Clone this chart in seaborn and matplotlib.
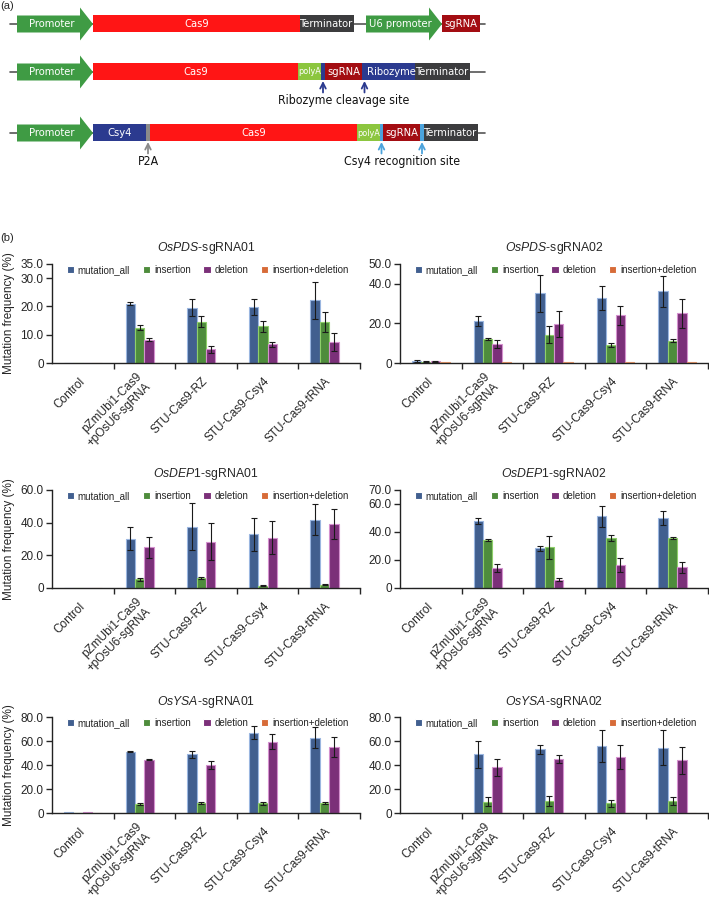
import numpy as np
import pandas as pd
import matplotlib.pyplot as plt
from matplotlib import font_manager
from matplotlib.patches import Polygon, Rectangle
from matplotlib.ticker import FuncFormatter
import seaborn as sns

sns.set_style('ticks')
plt.rcParams['font.family'] = ['Liberation Sans', 'DejaVu Sans']
plt.rcParams['mathtext.fontset'] = 'custom'
plt.rcParams['mathtext.it'] = 'Liberation Sans:italic'
plt.rcParams['mathtext.rm'] = 'Liberation Sans'

# ---------------- data (panel b) ----------------
groups = ['Control', 'pZmUbi1-Cas9\n+pOsU6-sgRNA', 'STU-Cas9-RZ', 'STU-Cas9-Csy4', 'STU-Cas9-tRNA']
types = ['mutation_all', 'insertion', 'deletion', 'insertion+deletion']
type_colors = ['#345c9c', '#46992f', '#882385', '#f2621d']
type_edges = ['#9ab6e0', '#8fcf6a', '#d591cf', '#f6a070']

# rows = types, columns = groups
pds1_mean = [[0, 21.0, 19.5, 19.8, 22.2],
             [0, 12.5, 14.6, 13.0, 14.6],
             [0, 8.3, 4.8, 6.6, 7.5],
             [0, 0, 0, 0, 0]]
pds1_sd = [[0, 0.5, 3.0, 2.8, 6.5],
           [0, 1.0, 2.0, 2.0, 3.5],
           [0, 0.5, 1.1, 1.0, 3.2],
           [0, 0, 0, 0, 0]]

pds2_mean = [[1.0, 21.2, 35.2, 33.0, 36.2],
             [0.6, 12.0, 14.3, 9.2, 11.3],
             [0.8, 9.5, 19.9, 24.0, 25.1],
             [0.3, 0.3, 0.3, 0.3, 0.3]]
pds2_sd = [[0.3, 2.5, 9.3, 6.0, 7.8],
           [0.2, 0.5, 4.2, 1.0, 0.6],
           [0.2, 2.0, 6.6, 5.0, 7.2],
           [0, 0, 0, 0, 0]]

dep1_mean = [[0.3, 30.3, 37.6, 32.8, 41.8],
             [0, 5.3, 6.1, 1.5, 2.1],
             [0.2, 24.8, 28.4, 30.9, 39.3],
             [0, 0, 0, 0, 0]]
dep1_sd = [[0, 7.0, 14.5, 10.0, 9.5],
           [0, 0.8, 0.8, 0.3, 0.3],
           [0, 6.2, 11.2, 10.0, 9.3],
           [0, 0, 0, 0, 0]]

dep2_mean = [[0.3, 47.8, 28.5, 51.3, 50.0],
             [0.3, 34.2, 29.0, 35.7, 35.8],
             [0.3, 14.5, 6.0, 16.2, 14.8],
             [0.3, 0.3, 0.3, 0.3, 0.3]]
dep2_sd = [[0, 2.2, 1.8, 7.5, 5.0],
           [0, 0.8, 8.0, 2.0, 0.8],
           [0, 3.0, 1.2, 5.0, 4.0],
           [0, 0, 0, 0, 0]]

ysa1_mean = [[0.8, 51.0, 48.8, 66.8, 62.8],
             [0.3, 7.5, 8.5, 8.0, 8.3],
             [0.6, 44.2, 40.0, 59.5, 55.0],
             [0.3, 0.4, 0.4, 0.4, 0.4]]
ysa1_sd = [[0, 0.4, 3.0, 5.5, 8.5],
           [0, 0.5, 1.0, 1.0, 0.5],
           [0, 0.4, 3.3, 6.0, 8.5],
           [0, 0, 0, 0, 0]]

ysa2_mean = [[0, 48.8, 53.0, 55.8, 54.5],
             [0, 9.5, 10.0, 8.0, 10.0],
             [0, 38.0, 45.0, 46.5, 43.8],
             [0, 0, 0, 0, 0]]
ysa2_sd = [[0, 11.0, 3.5, 13.0, 14.5],
           [0, 4.0, 3.8, 3.0, 3.5],
           [0, 7.2, 3.2, 10.0, 11.0],
           [0, 0, 0, 0, 0]]

panel_titles = [r'$\it{OsPDS}$-sgRNA01', r'$\it{OsPDS}$-sgRNA02',
                r'$\it{OsDEP1}$-sgRNA01', r'$\it{OsDEP1}$-sgRNA02',
                r'$\it{OsYSA}$-sgRNA01', r'$\it{OsYSA}$-sgRNA02']
panel_means = [pds1_mean, pds2_mean, dep1_mean, dep2_mean, ysa1_mean, ysa2_mean]
panel_sds = [pds1_sd, pds2_sd, dep1_sd, dep2_sd, ysa1_sd, ysa2_sd]
panel_yticks = [[0, 10, 20, 30, 35], [0, 20, 40, 50],
                [0, 20, 40, 60], [0, 20, 40, 60, 70],
                [0, 20, 40, 60, 80], [0, 20, 40, 60, 80]]

# ---------------- data (panel a) ----------------
row_parts = [
    [('Promoter', 'promoter'), ('Cas9', 'cas9'), ('Terminator', 'term'), ('', 'gap'),
     ('U6 promoter', 'promoter'), ('sgRNA', 'sgrna')],
    [('Promoter', 'promoter'), ('Cas9', 'cas9'), ('polyA', 'polya'), ('', 'rz'), ('sgRNA', 'sgrna'),
     ('', 'rz'), ('Ribozyme', 'ribozyme'), ('Terminator', 'term')],
    [('Promoter', 'promoter'), ('Csy4', 'csy4'), ('', 'p2a'), ('Cas9', 'cas9'), ('polyA', 'polya'),
     ('', 'csy'), ('sgRNA', 'sgrna'), ('', 'csy'), ('Terminator', 'term')],
    [('Promoter', 'promoter'), ('Cas9', 'cas9'), ('polyA', 'polya'), ('tRNA', 'trna'),
     ('sgRNA', 'sgrna'), ('tRNA', 'trna'), ('Terminator', 'term')],
]
row_widths = [
    [76, 207, 54, 12, 76, 38],
    [76, 205, 23, 4, 37, 5, 48, 55],
    [76, 53, 4, 207, 23, 3, 37, 4, 54],
    [76, 207, 22, 33, 38, 33, 54],
]
part_colors = {'promoter': '#3f9b44', 'cas9': '#ff1515', 'term': '#3c3c3e', 'sgrna': '#a30d12',
               'polya': '#8cc63f', 'rz': '#2b3a8f', 'ribozyme': '#2b3a8f', 'csy4': '#2b3a8f',
               'p2a': '#8a8a8a', 'csy': '#4ba3dc', 'trna': '#3c3c3e', 'gap': None}

# narrow font for the construct labels if one is installed
fnames = {f.name for f in font_manager.fontManager.ttflist}
if 'Liberation Sans Narrow' in fnames:
    dprop = dict(family='Liberation Sans Narrow')
    fs_box, fs_small, fs_note = 10, 8, 10
elif any(f.name == 'DejaVu Sans' and 'condensed' in str(f.stretch) for f in font_manager.fontManager.ttflist):
    dprop = dict(family='DejaVu Sans', stretch='condensed')
    fs_box, fs_small, fs_note = 8, 6.5, 8.8
else:
    dprop = dict(family='Liberation Sans')
    fs_box, fs_small, fs_note = 8, 6.5, 8.5

W, H = 709, 905
fig = plt.figure(figsize=(W / 100, H / 100), dpi=100)

# ---------------- panel (a): constructs ----------------
axd = fig.add_axes([0, 1 - 178 / H, 1, 178 / H])
axd.set_xlim(0, W)
axd.set_ylim(178, 0)
axd.axis('off')
row_y = [24, 72, 133, 195]
x_start = 17
bh = 8.5
cut_x = {}
for r, (parts, widths) in enumerate(zip(row_parts, row_widths)):
    y = row_y[r]
    end = x_start + sum(widths)
    axd.plot([10, max(end + 5, 485)], [y, y], color='#555555', lw=1.2, zorder=1)
    x = x_start
    for (label, kind), w in zip(parts, widths):
        c = part_colors[kind]
        if kind == 'promoter':
            hl = 13
            pts = [(x, y - bh), (x + w - hl, y - bh), (x + w - hl, y - 16.5), (x + w, y),
                   (x + w - hl, y + 16.5), (x + w - hl, y + bh), (x, y + bh)]
            axd.add_patch(Polygon(pts, closed=True, fc=c, ec='none', zorder=2))
            axd.text(x + (w - hl) / 2 + 3, y, label, color='white', ha='center', va='center',
                     fontsize=fs_box, zorder=3, **dprop)
        elif c is not None:
            axd.add_patch(Rectangle((x, y - bh), w, 2 * bh, fc=c, ec='none', zorder=2))
            if label:
                fs = fs_small if kind == 'polya' else fs_box
                axd.text(x + w / 2, y, label, color='white', ha='center', va='center',
                         fontsize=fs, zorder=3, **dprop)
        if kind in ('rz', 'csy', 'p2a'):
            cut_x.setdefault((r, kind), []).append(x + w / 2)
        x += w

arrow_cols = {'rz': '#2b3a8f', 'csy': '#4ba3dc', 'p2a': '#8a8a8a'}
for (r, kind), xs in cut_x.items():
    y = row_y[r]
    for xc in xs:
        axd.annotate('', xy=(xc, y + bh + 0.5), xytext=(xc, y + bh + 12),
                     arrowprops=dict(arrowstyle='->', color=arrow_cols[kind], lw=1.3,
                                     shrinkA=0, shrinkB=0))
    label = {'rz': 'Ribozyme cleavage site', 'csy': 'Csy4 recognition site', 'p2a': 'P2A'}[kind]
    axd.text(np.mean(xs), y + bh + 20, label, ha='center', va='center', fontsize=fs_note,
             color='#111111', **dprop)

fig.text(0.0, 1 - 6 / H, '(a)', fontsize=8, va='center', ha='left')
fig.text(0.0, 1 - 238 / H, '(b)', fontsize=8, va='center', ha='left')

# ---------------- panel (b): bar charts ----------------
ax_left = [52 / W, 400 / W]
ax_w = 308 / W
row_box = [(264, 363), (490, 588), (717, 813)]

fmt = FuncFormatter(lambda v, p: '0' if v == 0 else f'{v:.1f}')

for k in range(6):
    r, c = divmod(k, 2)
    top, bot = row_box[r]
    ax = fig.add_axes([ax_left[c], 1 - bot / H, ax_w, (bot - top) / H])
    rows = []
    for i, t in enumerate(types):
        for j, g in enumerate(groups):
            rows.append({'group': g, 'type': t, 'value': panel_means[k][i][j]})
    d = pd.DataFrame(rows)
    sns.barplot(data=d, x='group', y='value', hue='type', hue_order=types, order=groups,
                palette=type_colors, width=0.61, gap=0, errorbar=None, ax=ax,
                linewidth=0.8)
    bar_conts = list(ax.containers)
    for i, cont in enumerate(bar_conts):
        for j, p in enumerate(cont.patches):
            p.set_edgecolor(type_edges[i])
            sd = panel_sds[k][i][j]
            if sd > 0:
                ax.errorbar(p.get_x() + p.get_width() / 2, p.get_height(), yerr=sd,
                            fmt='none', ecolor='#1a1a1a', elinewidth=0.8, capsize=2.2,
                            capthick=0.8, zorder=5)
    handles, labels = ax.get_legend_handles_labels()
    ax.legend(handles[:4], labels[:4], ncol=4, loc='upper left', bbox_to_anchor=(0.035, 1.03),
              frameon=False, fontsize=7, handlelength=0.75, handleheight=0.75,
              handletextpad=0.4, columnspacing=1.3, borderaxespad=0)
    ax.set_title(panel_titles[k], fontsize=8.8, pad=9)
    yt = panel_yticks[k]
    ax.set_ylim(0, yt[-1])
    ax.set_yticks(yt)
    ax.yaxis.set_major_formatter(fmt)
    ax.set_xlim(-0.5, 4.5)
    ax.set_xticks(range(5))
    ax.set_xticks([0.5, 1.5, 2.5, 3.5, 4.5], minor=True)
    ax.set_xticklabels(groups, fontsize=8.5)
    plt.setp(ax.get_xticklabels(), rotation=45, ha='right', va='center', rotation_mode='anchor')
    ax.tick_params(axis='x', which='major', length=0, pad=12)
    ax.tick_params(axis='x', which='minor', length=4, width=1, direction='out')
    ax.tick_params(axis='y', length=4, width=1, labelsize=8.5, pad=2)
    ax.set_xlabel('')
    if c == 0:
        ax.set_ylabel('Mutation frequency (%)', fontsize=8.5)
        ax.yaxis.set_label_coords(-0.12, 0.5)
    else:
        ax.set_ylabel('')
    sns.despine(ax=ax)
    for s in ('left', 'bottom'):
        ax.spines[s].set_linewidth(1.0)
        ax.spines[s].set_color('#222222')

fig.savefig('out.png', dpi=100)
